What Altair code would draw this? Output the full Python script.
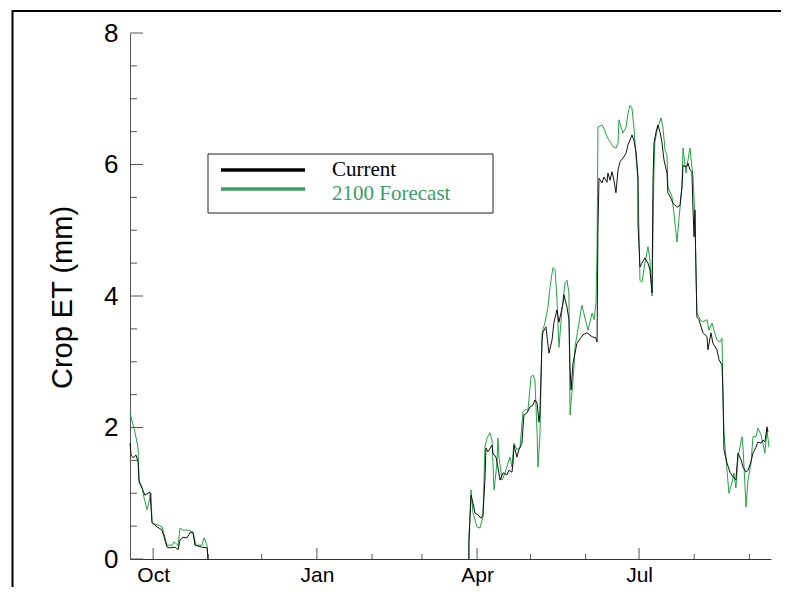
import altair as alt
import pandas as pd

# ---------------- data ----------------
BASE_DATE = "2001-09-18"

current_days = [0, 0.6, 1.7, 3.4, 4.5, 5.1, 6.7, 8.4, 11.2, 12.4, 15.2, 18.0, 20.8, 22.5, 25.3, 27.0,
                28.1, 29.8, 32.0, 33.7, 35.4, 36.5, 40.4, 43.3, 43.8,
                190.4, 190.4, 191.6, 192.7, 193.8, 195.5, 197.2, 198.3, 199.4, 200.0, 201.1, 203.4,
                203.9, 205.6, 206.7, 207.9, 209.6, 211.8, 212.9, 214.6, 215.2, 215.7, 217.4, 218.5,
                220.2, 221.3, 223.0, 224.7, 226.4, 227.5, 228.7, 229.8, 230.3, 231.5, 232.0, 233.7,
                234.3, 235.4, 237.1, 238.2, 239.9, 241.0, 243.3, 243.8, 245.5, 246.6, 247.2, 247.8,
                248.9, 251.1, 254.5, 256.7, 259.6, 261.8, 262.4, 262.9, 263.5, 265.2, 266.3, 268.0,
                268.5, 269.7, 270.8, 271.9, 273.0, 274.2, 275.3, 277.0, 278.7, 279.8, 280.9, 282.0,
                283.1, 284.3, 285.4, 285.4, 286.5, 287.6, 289.3, 291.0, 292.1, 293.3, 293.8, 294.4,
                295.5, 296.6, 297.8, 298.9, 300.0, 301.7, 302.2, 303.4, 305.1, 307.3, 309.0, 310.1,
                310.7, 312.4, 313.5, 314.6, 315.7, 316.3, 316.9, 317.4, 318.0, 318.5, 319.7, 320.2,
                321.9, 324.2, 324.7, 326.4, 327.5, 329.8, 330.9, 332.6, 333.1, 333.7, 335.4, 337.1,
                338.8, 340.4, 341.6, 343.3, 344.4, 346.1, 347.2, 348.9, 350.0, 351.7, 352.8, 354.5,
                355.6, 356.7, 357.9, 358.4]
current_vals = [1.76, 1.58, 1.54, 1.58, 1.48, 1.17, 1.08, 0.97, 1.02, 0.55, 0.49, 0.44, 0.18, 0.17, 0.18, 0.14,
                0.29, 0.33, 0.32, 0.40, 0.40, 0.21, 0.18, 0.17, 0.0,
                0.0, 0.24, 0.97, 0.85, 0.70, 0.67, 0.62, 0.67, 1.20, 1.69, 1.63, 1.73,
                1.61, 1.55, 1.40, 1.20, 1.31, 1.28, 1.35, 1.32, 1.46, 1.73, 1.55, 1.66,
                1.76, 2.19, 2.22, 2.31, 2.34, 2.42, 2.37, 2.08, 2.22, 3.33, 3.45, 3.53,
                3.38, 3.13, 3.33, 3.60, 3.79, 3.60, 3.89, 4.02, 3.83, 3.64, 2.92, 2.57,
                2.98, 3.28, 3.41, 3.44, 3.38, 3.36, 3.30, 5.00, 5.79, 5.72, 5.81, 5.73,
                5.87, 5.76, 5.89, 5.76, 5.57, 5.92, 6.04, 6.10, 6.17, 6.30, 6.37, 6.45,
                6.37, 6.19, 5.81, 5.11, 4.44, 4.50, 4.58, 4.50, 4.40, 4.05, 5.72, 6.33,
                6.49, 6.60, 6.49, 6.33, 6.07, 5.87, 5.57, 5.51, 5.41, 5.35, 5.38, 5.66,
                5.99, 5.96, 6.02, 5.92, 5.89, 5.31, 4.90, 5.31, 4.35, 3.68, 3.64, 3.59,
                3.44, 3.38, 3.18, 3.44, 3.28, 3.18, 3.03, 2.95, 2.57, 1.66, 1.46, 1.32,
                1.25, 1.20, 1.61, 1.51, 1.40, 1.32, 1.35, 1.48, 1.61, 1.70, 1.78, 1.76,
                1.81, 1.78, 2.01, 1.93]

forecast_days = [0, 2.8, 4.5, 5.1, 6.7, 7.9, 9.6, 11.8, 12.4, 15.2, 18.0, 20.8, 23.6, 24.7, 27.0, 28.1,
                 29.8, 32.6, 35.4, 37.1, 40.4, 41.6, 43.3, 43.8,
                 190.4, 190.4, 191.6, 192.7, 194.9, 196.6, 198.3, 199.4, 200.6, 202.2, 203.4, 204.5,
                 206.2, 206.7, 207.3, 209.0, 210.7, 212.4, 213.5, 214.6, 215.7, 217.4, 219.1, 220.8,
                 221.9, 223.6, 225.3, 226.4, 227.5, 228.7, 229.2, 230.3, 231.5, 233.1, 234.8, 236.0,
                 237.6, 238.8, 239.9, 241.0, 242.7, 244.4, 245.5, 246.6, 247.2, 249.4, 250.0, 253.9,
                 254.5, 257.3, 259.6, 260.7, 261.8, 262.4, 262.9, 265.2, 266.3, 268.0, 269.1, 270.2,
                 271.3, 273.0, 274.2, 274.7, 275.8, 277.0, 278.7, 279.8, 280.9, 282.0, 283.1, 284.3,
                 285.4, 286.5, 287.6, 289.3, 291.0, 292.1, 293.3, 294.4, 294.9, 296.1, 298.3, 299.4,
                 300.6, 301.7, 302.2, 304.5, 305.6, 307.3, 308.4, 310.1, 310.7, 312.4, 313.5, 314.6,
                 315.7, 316.3, 317.4, 318.0, 318.5, 319.7, 320.2, 321.9, 324.2, 325.3, 327.0, 328.1,
                 329.8, 331.5, 332.6, 333.1, 333.7, 335.4, 336.5, 338.2, 339.3, 340.4, 341.6, 343.8,
                 344.4, 346.1, 347.2, 348.9, 350.0, 351.7, 352.8, 354.5, 355.6, 356.7, 357.9, 359.0]
forecast_vals = [2.22, 1.93, 1.69, 1.20, 1.10, 0.93, 0.75, 1.00, 0.55, 0.52, 0.49, 0.21, 0.21, 0.26, 0.21, 0.47,
                 0.44, 0.44, 0.41, 0.21, 0.21, 0.32, 0.21, 0.0,
                 0.0, 0.30, 1.05, 0.70, 0.49, 0.47, 0.64, 1.70, 1.84, 1.92, 1.81, 1.05,
                 1.46, 1.84, 1.55, 1.20, 1.31, 1.46, 1.55, 1.40, 1.76, 1.66, 1.70, 2.24,
                 2.27, 2.27, 2.77, 2.80, 2.72, 1.92, 1.40, 1.86, 3.44, 3.59, 3.83, 4.14,
                 4.43, 4.40, 3.94, 3.22, 3.79, 4.20, 4.24, 4.05, 2.19, 2.90, 3.22, 3.86,
                 3.79, 3.48, 3.74, 3.64, 3.89, 4.70, 6.57, 6.60, 6.55, 6.42, 6.37, 6.33,
                 6.27, 6.25, 6.33, 6.68, 6.57, 6.48, 6.57, 6.78, 6.90, 6.86, 6.57, 6.11,
                 5.76, 4.24, 4.21, 4.50, 4.75, 4.55, 4.00, 5.96, 6.34, 6.52, 6.71, 6.57,
                 6.22, 6.14, 5.66, 5.51, 5.26, 4.82, 5.16, 5.66, 6.25, 5.87, 6.07, 6.25,
                 5.96, 5.81, 5.20, 4.35, 3.74, 3.68, 3.64, 3.61, 3.64, 3.48, 3.59, 3.48,
                 3.33, 3.30, 3.36, 2.57, 1.92, 1.35, 1.00, 1.16, 1.31, 1.08, 1.55, 1.86,
                 1.70, 0.79, 1.20, 1.46, 1.86, 1.86, 1.99, 1.89, 1.76, 1.61, 1.96, 1.70]

series_names = ["Current", "2100 Forecast"]
y_major = [0, 2, 4, 6, 8]
y_minor = [0.5, 1, 1.5, 2.5, 3, 3.5, 4.5, 5, 5.5, 6.5, 7, 7.5]
x_major = ["2001-10-01T00:00:00", "2002-01-01T00:00:00", "2002-04-01T00:00:00", "2002-07-01T00:00:00"]
x_minor = ["2001-11-01T00:00:00", "2001-12-01T00:00:00", "2002-02-01T00:00:00", "2002-03-01T00:00:00",
           "2002-05-01T00:00:00", "2002-06-01T00:00:00", "2002-08-01T00:00:00", "2002-09-01T00:00:00"]

# ---------------- build tables ----------------
def series_df(days, vals):
    df = pd.DataFrame({"day": days, "et": vals})
    df["date"] = pd.Timestamp(BASE_DATE) + pd.to_timedelta(df["day"], unit="D")
    df["seg"] = (df["day"] > 100).astype(int)
    df["idx"] = range(len(df))
    return df

cur_df = series_df(current_days, current_vals)
fc_df = series_df(forecast_days, forecast_vals)

W, H = 641, 526
FONT = "Liberation Sans"
BLACK = "#111111"
GREEN = "#22a345"
LEG_GREEN = "#3a9c66"

x_scale = alt.Scale(domain=[alt.DateTime(year=2001, month=9, date=18),
                            alt.DateTime(year=2002, month=9, date=13, hours=3)])
y_scale = alt.Scale(domain=[0, 8], nice=False, zero=True)

x_axis = alt.Axis(values=[alt.DateTime(year=2001, month=10, date=1),
                          alt.DateTime(year=2002, month=1, date=1),
                          alt.DateTime(year=2002, month=4, date=1),
                          alt.DateTime(year=2002, month=7, date=1)],
                  format="%b", labelFontSize=21, labelFont=FONT, labelColor="black",
                  labelPadding=5, ticks=False, tickSize=0, grid=False, title=None,
                  domainColor="#333333", domainWidth=1, labelFlush=False)
y_axis = alt.Axis(values=y_major, labelFontSize=26, labelFont=FONT, labelColor="black",
                  labelPadding=12, ticks=False, tickSize=0, grid=False,
                  domainColor="#555555", domainWidth=1,
                  title="Crop ET (mm)", titleFontSize=29, titleFont=FONT,
                  titleFontWeight="normal", titleColor="black",
                  titleX=-59, titleY=264, titleAngle=270,
                  titleBaseline="alphabetic", titleAlign="center")

one = pd.DataFrame({"k": [0]})

frame_top = alt.Chart(one).mark_rule(color="black", strokeWidth=2).encode(
    x=alt.value(-117.5), x2=alt.value(760), y=alt.value(-22))
frame_left = alt.Chart(one).mark_rule(color="black", strokeWidth=2).encode(
    x=alt.value(-117.5), y=alt.value(-23), y2=alt.value(700))

fc_line = alt.Chart(fc_df).mark_line(color=GREEN, strokeWidth=1).encode(
    x=alt.X("date:T", scale=x_scale, axis=x_axis),
    y=alt.Y("et:Q", scale=y_scale, axis=y_axis),
    detail="seg:N", order="idx:Q")

cur_line = alt.Chart(cur_df).mark_line(color=BLACK, strokeWidth=1).encode(
    x=alt.X("date:T", scale=x_scale, axis=x_axis),
    y=alt.Y("et:Q", scale=y_scale, axis=y_axis),
    detail="seg:N", order="idx:Q")

ymaj = alt.Chart(pd.DataFrame({"et": y_major})).mark_rule(color="#555555").encode(
    y=alt.Y("et:Q", scale=y_scale, axis=y_axis), x=alt.value(0), x2=alt.value(13))
ymin = alt.Chart(pd.DataFrame({"et": y_minor})).mark_rule(color="#555555").encode(
    y=alt.Y("et:Q", scale=y_scale, axis=y_axis), x=alt.value(0), x2=alt.value(7))
xmaj = alt.Chart(pd.DataFrame({"date": x_major})).mark_rule(color="#555555").encode(
    x=alt.X("date:T", scale=x_scale, axis=x_axis), y=alt.value(H), y2=alt.value(H - 11))
xmin = alt.Chart(pd.DataFrame({"date": x_minor})).mark_rule(color="#555555").encode(
    x=alt.X("date:T", scale=x_scale, axis=x_axis), y=alt.value(H), y2=alt.value(H - 5))

leg_box = alt.Chart(one).mark_rect(fill="white", stroke="#222222", strokeWidth=1).encode(
    x=alt.value(78), x2=alt.value(363), y=alt.value(121), y2=alt.value(180))
leg_l1 = alt.Chart(one).mark_rule(color="black", strokeWidth=3.5).encode(
    x=alt.value(91), x2=alt.value(175), y=alt.value(137))
leg_l2 = alt.Chart(one).mark_rule(color=LEG_GREEN, strokeWidth=3.5).encode(
    x=alt.value(91), x2=alt.value(175), y=alt.value(156))
leg_t1 = alt.Chart(one).mark_text(text=series_names[0], align="left", baseline="alphabetic",
                                  font="Liberation Serif", fontSize=21, color="black").encode(
    x=alt.value(202), y=alt.value(143))
leg_t2 = alt.Chart(one).mark_text(text=series_names[1], align="left", baseline="alphabetic",
                                  font="Liberation Serif", fontSize=21, color=LEG_GREEN).encode(
    x=alt.value(202), y=alt.value(167))

chart = alt.layer(frame_top, frame_left, fc_line, cur_line, ymaj, ymin, xmaj, xmin,
                  leg_box, leg_l1, leg_l2, leg_t1, leg_t2).properties(
    width=W, height=H,
    background="white",
    autosize=alt.AutoSizeParams(type="none"),
    padding={"left": 122, "top": 25, "right": 10, "bottom": 28},
).configure_view(stroke="transparent", strokeWidth=0)

chart.save("out.html", embed_options={"renderer": "svg", "actions": False})
